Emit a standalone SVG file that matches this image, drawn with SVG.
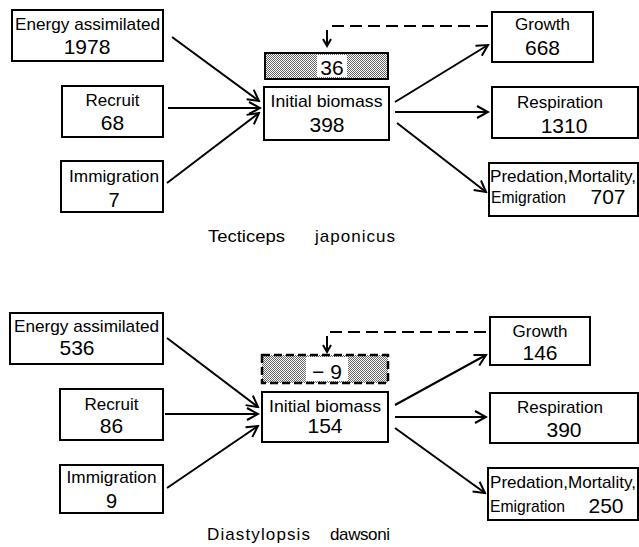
<svg xmlns="http://www.w3.org/2000/svg" width="639" height="547" viewBox="0 0 639 547">
<defs>
<style>
.box{fill:#fff;stroke:#000;stroke-width:2}
.lbl{font-family:"Liberation Sans",Arial,sans-serif;font-size:17px;fill:#000;text-anchor:middle}
.num{font-family:"Liberation Sans",Arial,sans-serif;font-size:21px;fill:#000;text-anchor:middle}
.cap{font-family:"Liberation Sans",Arial,sans-serif;font-size:17px;fill:#000}
.arr{stroke:#000;stroke-width:2;fill:none;marker-end:url(#ah)}
.dash{stroke:#000;stroke-width:2;fill:none;stroke-dasharray:12 6}
</style>
<pattern id="dots" width="2" height="2" patternUnits="userSpaceOnUse">
<rect width="2" height="2" fill="#fff"/>
<rect width="1" height="1" fill="#666"/>
<rect x="1" y="1" width="1" height="1" fill="#666"/>
</pattern>
<marker id="ah" markerUnits="userSpaceOnUse" markerWidth="14" markerHeight="14" refX="12" refY="7" orient="auto">
<path d="M1,1 L12,7 L1,13" fill="none" stroke="#000" stroke-width="2"/>
</marker>
<marker id="sm" markerUnits="userSpaceOnUse" markerWidth="10" markerHeight="10" refX="8" refY="5" orient="auto">
<path d="M1,1 L8,5 L1,9" fill="none" stroke="#000" stroke-width="2"/>
</marker>
</defs>
<rect width="639" height="547" fill="#fff"/>

<g id="connectors">
<line class="arr" x1="172" y1="37" x2="259" y2="101"/>
<line class="arr" x1="168" y1="108" x2="260" y2="108"/>
<line class="arr" x1="167" y1="183" x2="259" y2="113"/>
<line class="arr" x1="395" y1="102" x2="488" y2="45"/>
<line class="arr" x1="395" y1="112" x2="488" y2="112"/>
<line class="arr" x1="397" y1="123" x2="486" y2="192"/>
<path class="dash" d="M488,26 L327,26"/>
<line x1="327" y1="30" x2="327" y2="46" stroke="#000" stroke-width="2" marker-end="url(#sm)"/>

<line class="arr" x1="167" y1="338" x2="258" y2="407"/>
<line class="arr" x1="165" y1="414" x2="258" y2="414"/>
<line class="arr" x1="167" y1="488" x2="258" y2="426"/>
<line class="arr" x1="395" y1="405" x2="486" y2="355"/>
<line class="arr" x1="395" y1="417" x2="486" y2="417"/>
<line class="arr" x1="395" y1="428" x2="485" y2="493"/>
<path class="dash" d="M486,332 L327,332"/>
<line x1="327" y1="336" x2="327" y2="352" stroke="#000" stroke-width="2" marker-end="url(#sm)"/>
</g>

<g id="t-energy">
<rect class="box" x="12" y="10" width="151" height="51"/>
<text class="lbl" x="87.5" y="30" textLength="145" lengthAdjust="spacingAndGlyphs">Energy assimilated</text>
<text class="num" x="87" y="54">1978</text>
</g>
<g id="t-recruit">
<rect class="box" x="62" y="86" width="101" height="51"/>
<text class="lbl" x="112.5" y="106">Recruit</text>
<text class="num" x="112.5" y="130">68</text>
</g>
<g id="t-immigration">
<rect class="box" x="61" y="161" width="102" height="51"/>
<text class="lbl" x="114" y="182" textLength="90" lengthAdjust="spacingAndGlyphs">Immigration</text>
<text class="num" x="114" y="207" style="font-size:20px">7</text>
</g>
<g id="t-change">
<rect x="265" y="53" width="123" height="26" fill="url(#dots)" stroke="#000" stroke-width="2"/>
<rect x="317" y="55" width="30" height="22" fill="#fff"/>
<text class="num" x="332" y="75">36</text>
</g>
<g id="t-initial">
<rect class="box" x="264" y="87" width="125" height="53"/>
<text class="lbl" x="326.5" y="107" textLength="112" lengthAdjust="spacingAndGlyphs">Initial biomass</text>
<text class="num" x="327" y="132">398</text>
</g>
<g id="t-growth">
<rect class="box" x="492" y="12" width="101" height="50"/>
<text class="lbl" x="542.5" y="30">Growth</text>
<text class="num" x="542.5" y="55">668</text>
</g>
<g id="t-resp">
<rect class="box" x="492" y="87" width="146" height="51"/>
<text class="lbl" x="560" y="108">Respiration</text>
<text class="num" x="564" y="133">1310</text>
</g>
<g id="t-pred">
<rect class="box" x="489" y="163" width="149" height="53"/>
<text class="lbl" x="563" y="182" textLength="146" lengthAdjust="spacingAndGlyphs">Predation,Mortality,</text>
<text class="lbl" x="491" y="203" style="text-anchor:start" textLength="75" lengthAdjust="spacingAndGlyphs">Emigration</text>
<text class="num" x="608" y="204">707</text>
</g>
<text class="cap" x="208" y="242" textLength="77" lengthAdjust="spacingAndGlyphs">Tecticeps</text>
<text class="cap" x="315" y="242" textLength="80" lengthAdjust="spacing">japonicus</text>

<g id="d-energy">
<rect class="box" x="10" y="313" width="153" height="51"/>
<text class="lbl" x="86.5" y="332" textLength="145" lengthAdjust="spacingAndGlyphs">Energy assimilated</text>
<text class="num" x="77" y="355">536</text>
</g>
<g id="d-recruit">
<rect class="box" x="60" y="389" width="103" height="51"/>
<text class="lbl" x="111.5" y="410">Recruit</text>
<text class="num" x="111.5" y="433">86</text>
</g>
<g id="d-immigration">
<rect class="box" x="60" y="465" width="103" height="48"/>
<text class="lbl" x="111.5" y="483" textLength="90" lengthAdjust="spacingAndGlyphs">Immigration</text>
<text class="num" x="111.5" y="508" style="font-size:20px">9</text>
</g>
<g id="d-change">
<rect x="262" y="355" width="126" height="28" fill="url(#dots)"/>
<rect x="306" y="357" width="42" height="24" fill="#fff"/>
<rect x="262" y="355" width="126" height="28" fill="none" stroke="#000" stroke-width="2.5" stroke-dasharray="8 4"/>
<text class="num" x="327" y="379">− 9</text>
</g>
<g id="d-initial">
<rect class="box" x="262" y="392" width="126" height="50"/>
<text class="lbl" x="325" y="412" textLength="112" lengthAdjust="spacingAndGlyphs">Initial biomass</text>
<text class="num" x="325" y="433">154</text>
</g>
<g id="d-growth">
<rect class="box" x="490" y="317" width="100" height="48"/>
<text class="lbl" x="540" y="337">Growth</text>
<text class="num" x="540" y="360">146</text>
</g>
<g id="d-resp">
<rect class="box" x="490" y="393" width="148" height="50"/>
<text class="lbl" x="560" y="413">Respiration</text>
<text class="num" x="564" y="437">390</text>
</g>
<g id="d-pred">
<rect class="box" x="488" y="468" width="150" height="52"/>
<text class="lbl" x="563" y="488" textLength="146" lengthAdjust="spacingAndGlyphs">Predation,Mortality,</text>
<text class="lbl" x="490" y="512" style="text-anchor:start" textLength="75" lengthAdjust="spacingAndGlyphs">Emigration</text>
<text class="num" x="606" y="513">250</text>
</g>
<text class="cap" x="207" y="540" textLength="103" lengthAdjust="spacing">Diastylopsis</text>
<text class="cap" x="330" y="540" textLength="60" lengthAdjust="spacing">dawsoni</text>
</svg>
